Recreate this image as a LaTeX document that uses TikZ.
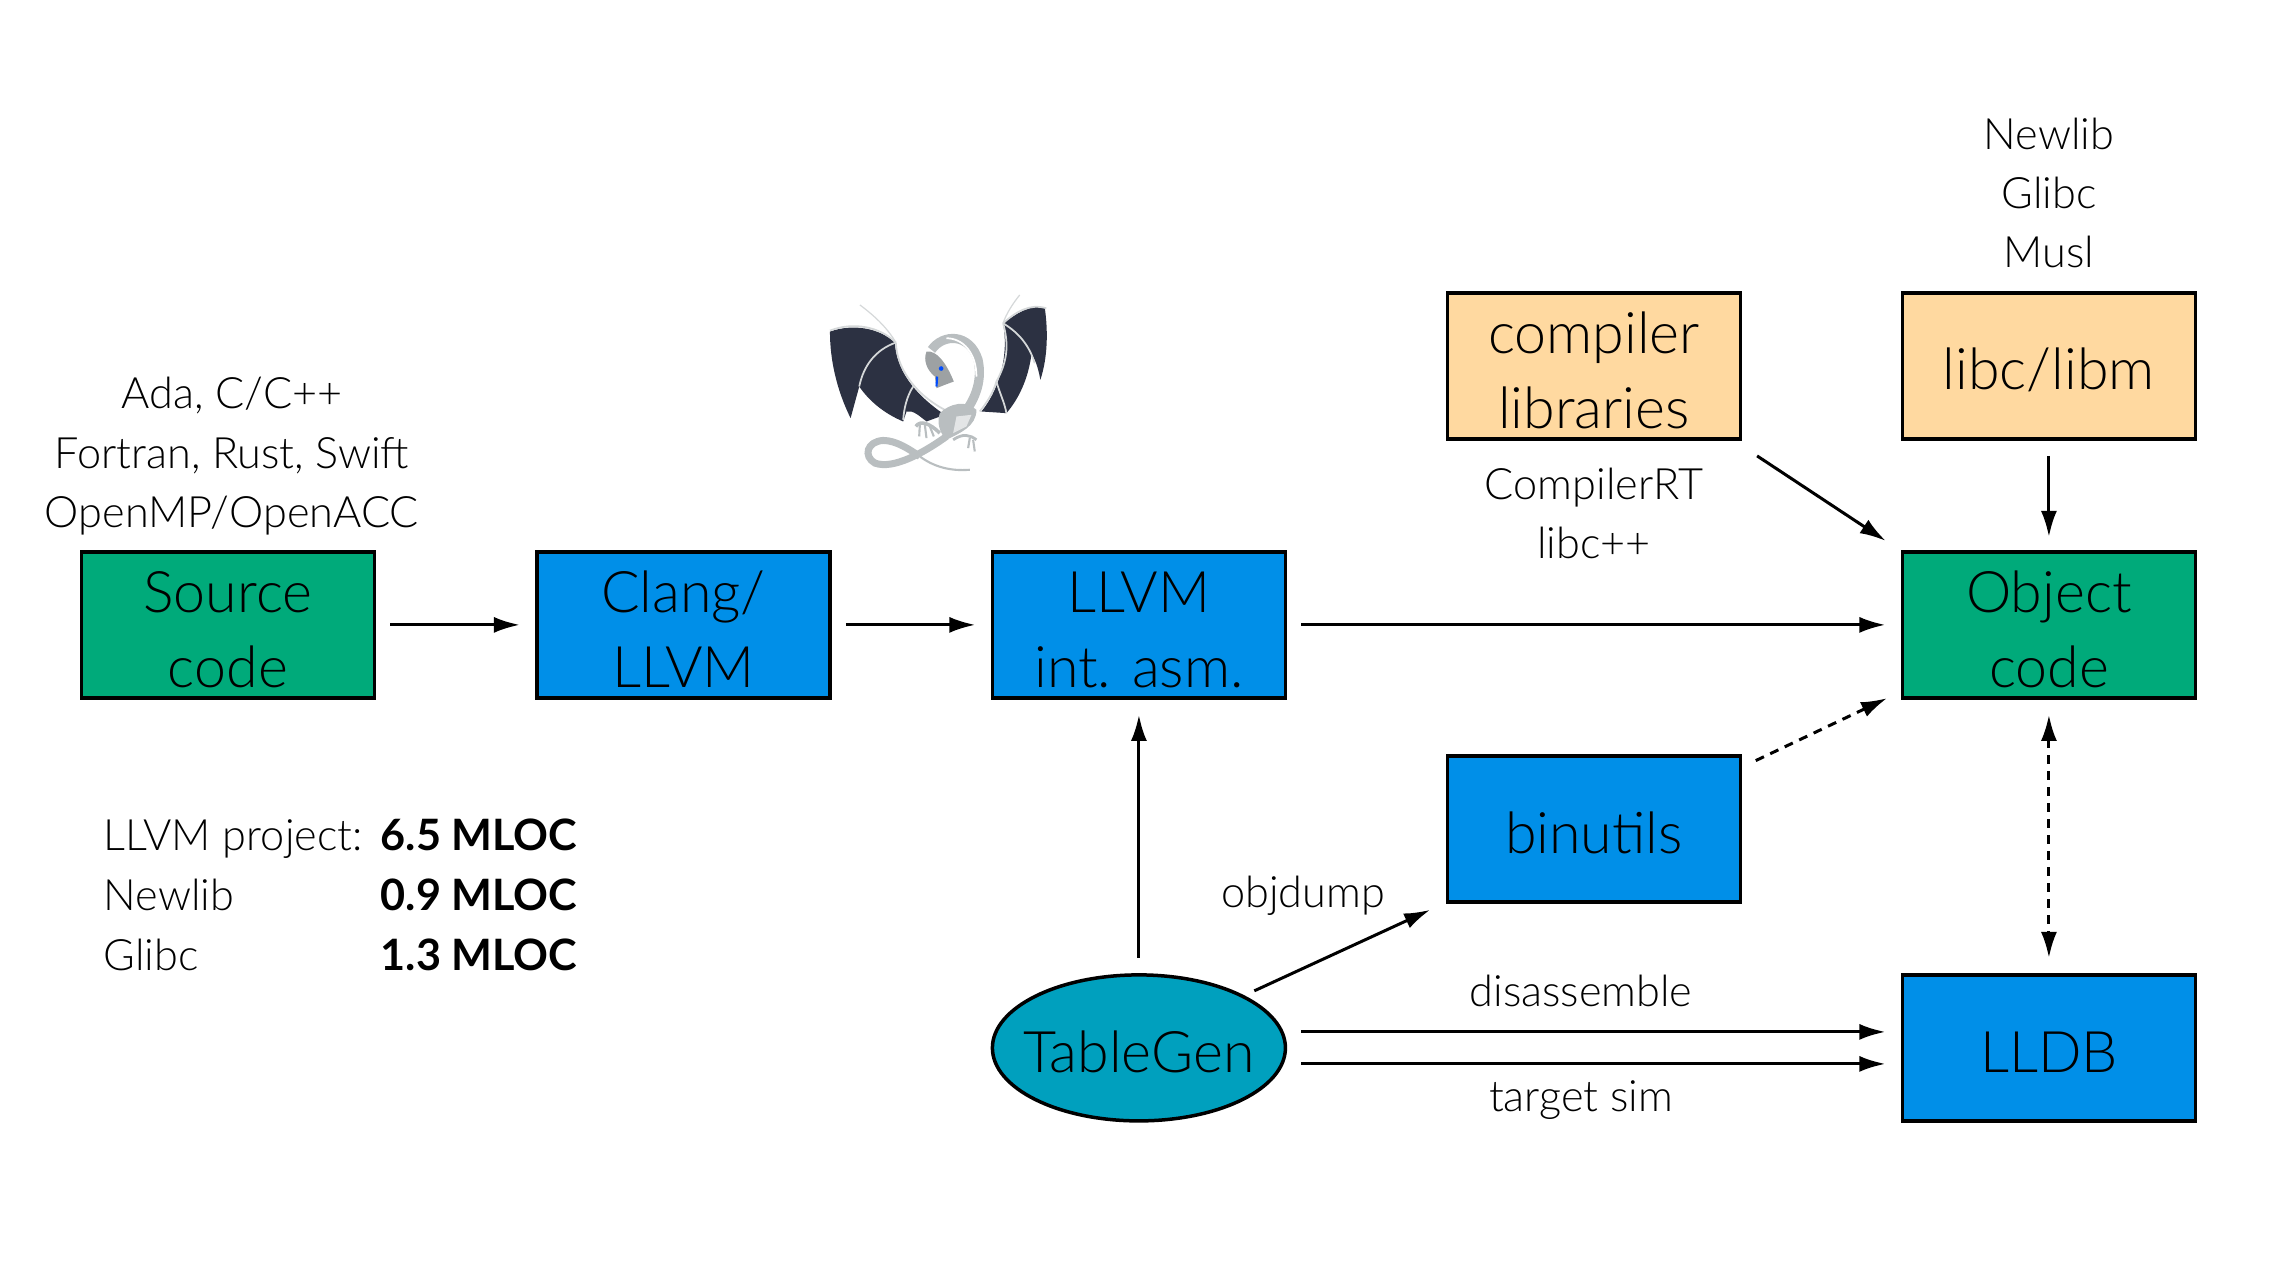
\documentclass[tikz,border=0pt]{standalone}
\usepackage{fontspec}
\setmainfont[UprightFont=* Light,BoldFont=* Bold]{Lato}
\usetikzlibrary{positioning}
\usetikzlibrary{arrows.meta}
\usetikzlibrary{shapes.geometric}
\definecolor{srcgreen}{HTML}{00AA7A}
\definecolor{llvmblue}{HTML}{008FE8}
\definecolor{libsand}{HTML}{FFD9A0}
\definecolor{tblteal}{HTML}{00A0BE}
\definecolor{wingdark}{HTML}{2C3142}
\definecolor{bodygrey}{HTML}{B9BEC0}

\begin{document}
\begin{tikzpicture}
            \tikzstyle{box_base}=[rectangle, draw, line width=0.035cm, outer sep=0, inner sep=0, minimum width=2.93cm, minimum height=1.46cm, align=center, font=\fontsize{16.3}{21.4}\selectfont];
            \tikzstyle{box_node}=[box_base, execute at begin node={\rule{0pt}{0.5cm}}];
            \tikzstyle{box_two}=[box_base, execute at begin node={\rule{0pt}{1.26cm}}];
            \tikzstyle{note}=[align=center, inner sep=0, font=\fontsize{12.3}{16.9}\selectfont];
            \tikzstyle{stat}=[anchor=west, inner sep=0, text height=0.3cm, text depth=0.08cm, font=\fontsize{12.3}{16.9}\selectfont];
            \tikzstyle{arrow}=[line width=0.03cm, -{Latex[length=0.26cm, width=0.16cm]}];
            \tikzstyle{dashes}=[dash pattern=on 0.09cm off 0.07cm];

            \useasboundingbox (0,0) rectangle (22.76,-12.8);

            % main row
            \node(source) [box_two, fill=srcgreen] at (2.279,-6.249) {Source\\code};
            \node(clang) [box_two, fill=llvmblue, right = 1.625cm of source] {Clang/\\LLVM};
            \node(llvm) [box_two, fill=llvmblue, right = 1.625cm of clang] {LLVM\\int. asm.};
            \node(object) [box_two, fill=srcgreen, right = 6.17cm of llvm] {Object\\code};

            % libraries
            \node(compiler) [box_two, fill=libsand, above right = 1.13cm and 1.62cm of llvm] {compiler\\libraries};
            \node(libc) [box_node, fill=libsand, above = 1.13cm of object] {libc/libm};
            \node(binutils) [box_node, fill=llvmblue, below right = 0.58cm and 1.62cm of llvm] {binutils};

            % bottom row
            \node(tablegen) [box_node, ellipse, fill=tblteal, below = 2.77cm of llvm] {\makebox[0pt]{TableGen}};
            \node(lldb) [box_node, fill=llvmblue, below = 2.77cm of object] {LLDB};

            % notes
            \node(languages) [note, above = 0.16cm of source, xshift=0.04cm] {Ada, C/C++\\Fortran, Rust, Swift\\OpenMP/OpenACC};
            \node(libcs) [note, above = 0.24cm of libc] {Newlib\\Glibc\\Musl};
            \node(rtlibs) [note, below = 0.28cm of compiler] {CompilerRT\\libc++};
            \node(objdump) [note] at (13.03,-8.96) {objdump};
            \node(disasm) [note] at (15.81,-9.91) {disassemble};
            \node(targetsim) [note] at (15.81,-11.0) {target sim};

            % line counts
            \node(project_l) [stat] at (1.03,-8.39) {LLVM project:};
            \node(newlib_l) [stat, below = 0.21cm of project_l.south west, anchor=north west] {Newlib};
            \node(glibc_l) [stat, below = 0.21cm of newlib_l.south west, anchor=north west] {Glibc};
            \node(project_n) [stat] at (3.80,-8.39) {\textbf{6.5 MLOC}};
            \node(newlib_n) [stat, below = 0.21cm of project_n.south west, anchor=north west] {\textbf{0.9 MLOC}};
            \node(glibc_n) [stat, below = 0.21cm of newlib_n.south west, anchor=north west] {\textbf{1.3 MLOC}};

            % arrows
            \draw[arrow, shorten <=0.16cm, shorten >=0.17cm] (source) -- (clang);
            \draw[arrow, shorten <=0.16cm, shorten >=0.17cm] (clang) -- (llvm);
            \draw[arrow, shorten <=0.16cm, shorten >=0.17cm] (llvm) -- (object);
            \draw[arrow, shorten <=0.17cm, shorten >=0.15cm] (libc) -- (object);
            \draw[arrow, shorten <=0.2cm, shorten >=0.2cm] ([yshift=-0.06cm]compiler.south east) -- (object.north west);
            \draw[arrow, dashes, shorten <=0.17cm, shorten >=0.17cm] ([yshift=-0.12cm]binutils.north east) -- ([yshift=0.07cm]object.south west);
            \draw[arrow, dashes, {Latex[length=0.26cm, width=0.16cm]}-{Latex[length=0.26cm, width=0.16cm]}, shorten <=0.17cm, shorten >=0.17cm] (object) -- (lldb);
            \draw[arrow, shorten <=0.17cm, shorten >=0.17cm] (tablegen) -- (llvm);
            \draw[arrow, shorten <=0.13cm, shorten >=0.19cm] (tablegen.north east) -- (binutils.south west);
            \draw[arrow, shorten <=0.16cm, shorten >=0.17cm] ([yshift=0.16cm]tablegen.east) -- ([yshift=0.16cm]lldb.west);
            \draw[arrow, shorten <=0.16cm, shorten >=0.17cm] ([yshift=-0.16cm]tablegen.east) -- ([yshift=-0.16cm]lldb.west);

            % dragon
            \begin{scope}[shift={(7.8,-2.7)}, x=0.0333mm, y=-0.0333mm]
                \fill[wingdark] (150,185) .. controls (220,160) and (300,175) .. (345,218) .. controls (350,300) and (400,370) .. (495,435) -- (440,455) .. controls (420,440) and (400,420) .. (380,425) -- (370,455) .. controls (310,430) and (265,390) .. (238,350) -- (212,445) .. controls (170,360) and (150,270) .. (150,185) -- cycle;
                \fill[wingdark] (670,160) .. controls (710,130) and (750,105) .. (795,112) .. controls (805,180) and (805,260) .. (782,330) .. controls (775,290) and (765,265) .. (755,255) .. controls (745,330) and (715,390) .. (680,430) -- (605,425) .. controls (650,370) and (690,270) .. (670,160) -- cycle;
                % wing bones
                \draw[bodygrey!60, line width=0.5pt] (150,182) .. controls (220,155) and (300,170) .. (348,218);
                \draw[bodygrey!60, line width=0.35pt] (240,105) .. controls (280,135) and (320,170) .. (348,218);
                \draw[bodygrey!60, line width=0.5pt] (348,218) .. controls (285,240) and (250,290) .. (238,350);
                \draw[bodygrey!60, line width=0.5pt] (348,218) .. controls (350,290) and (400,370) .. (495,420);
                \draw[bodygrey!60, line width=0.5pt] (400,350) .. controls (380,380) and (372,420) .. (370,450);
                \draw[bodygrey!60, line width=0.5pt] (670,160) .. controls (710,125) and (750,100) .. (800,115);
                \draw[bodygrey!60, line width=0.35pt] (720,75) .. controls (700,100) and (680,130) .. (670,160);
                \draw[bodygrey!60, line width=0.5pt] (670,160) .. controls (720,190) and (750,230) .. (765,280);
                \draw[bodygrey!60, line width=0.5pt] (670,160) .. controls (690,230) and (680,280) .. (650,335);
                \draw[bodygrey!60, line width=0.5pt] (650,335) .. controls (660,370) and (675,400) .. (680,430);
                \draw[bodygrey!60, line width=0.5pt] (650,335) .. controls (640,370) and (620,400) .. (600,425);
                % neck and body
                \draw[bodygrey, line width=2.6pt] (455,240) .. controls (490,190) and (570,190) .. (595,270) .. controls (610,340) and (580,400) .. (545,440);
                \draw[white, line width=0.5pt] (500,205) .. controls (550,205) and (590,250) .. (590,320);
                \fill[bodygrey] (480,430) .. controls (510,400) and (560,390) .. (590,420) .. controls (590,470) and (540,490) .. (500,510) .. controls (480,490) and (470,460) .. (480,430) -- cycle;
                \fill[bodygrey!40] (530,440) -- (575,435) -- (560,470) -- (520,490) -- cycle;
                % head
                \fill[bodygrey!85!black] (440,245) .. controls (470,240) and (500,280) .. (522,335) -- (495,345) -- (470,355) -- (465,320) .. controls (440,300) and (430,270) .. (440,245) -- cycle;
                \fill[blue!70!cyan] (484,296) circle (7);
                \draw[blue!70!cyan, line width=0.6pt] (472,320) -- (470,350);
                % tail
                \draw[bodygrey, line width=2pt] (500,500) .. controls (430,550) and (340,600) .. (285,580) .. controls (250,560) and (260,515) .. (310,512) .. controls (350,512) and (390,540) .. (420,560);
                \draw[bodygrey, line width=0.6pt] (420,560) .. controls (460,590) and (510,605) .. (570,600);
                % feet
                \draw[bodygrey, line width=1pt] (480,490) .. controls (450,460) and (420,450) .. (408,470);
                \draw[bodygrey, line width=0.6pt] (420,465) -- (418,500) (435,465) -- (440,505) (450,470) -- (462,500);
                \draw[bodygrey, line width=0.8pt] (520,510) .. controls (550,490) and (570,495) .. (590,510);
                \draw[bodygrey, line width=0.6pt] (570,505) -- (565,535) (580,510) -- (585,545);
            \end{scope}
        \end{tikzpicture}
\end{document}
